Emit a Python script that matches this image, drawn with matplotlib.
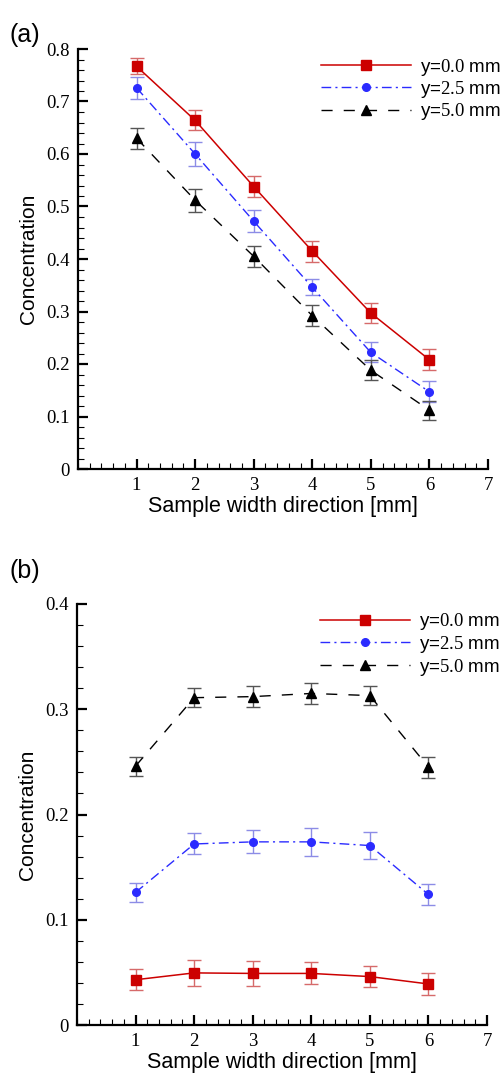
import matplotlib
matplotlib.use("Agg")
import matplotlib.pyplot as plt
from matplotlib.ticker import MultipleLocator, FixedLocator
from matplotlib.lines import Line2D

plt.rcParams['mathtext.fontset'] = 'custom'
plt.rcParams['mathtext.rm'] = 'Liberation Serif'

x = [1, 2, 3, 4, 5, 6]
labels = ["y=$\\mathrm{0.0}$ mm", "y=$\\mathrm{2.5}$ mm", "y=$\\mathrm{5.0}$ mm"]

# Panel (a)
a_y00 = [0.767, 0.664, 0.538, 0.415, 0.297, 0.208]
a_y00_err = [0.015, 0.019, 0.020, 0.020, 0.019, 0.020]
a_y25 = [0.726, 0.600, 0.472, 0.346, 0.222, 0.147]
a_y25_err = [0.021, 0.022, 0.021, 0.015, 0.019, 0.020]
a_y50 = [0.630, 0.512, 0.405, 0.292, 0.188, 0.112]
a_y50_err = [0.020, 0.022, 0.020, 0.020, 0.019, 0.018]

# Panel (b)
b_y00 = [0.043, 0.0495, 0.049, 0.049, 0.046, 0.039]
b_y00_err = [0.010, 0.012, 0.012, 0.0105, 0.010, 0.0105]
b_y25 = [0.126, 0.172, 0.174, 0.174, 0.1705, 0.124]
b_y25_err = [0.009, 0.010, 0.011, 0.013, 0.013, 0.010]
b_y50 = [0.246, 0.311, 0.312, 0.315, 0.313, 0.245]
b_y50_err = [0.009, 0.009, 0.010, 0.010, 0.009, 0.010]

W, H = 502, 1079
fig = plt.figure(figsize=(W / 100, H / 100), dpi=100)

def ax_rect(l, r, t, b):
    return [l / W, 1 - b / H, (r - l) / W, (b - t) / H]

styles = [
    dict(color='#cc0000', ecolor='#d66a6a', marker='s', ms=7, ls='-', lw=1.1),
    dict(color='#2b2bff', ecolor='#8c8ce6', marker='o', ms=5.5, ls=(0, (7, 3, 1.5, 3)), lw=1.0),
    dict(color='#000000', ecolor='#555555', marker='^', ms=7, ls=(0, (8, 8)), lw=1.0),
]

def draw(ax, ys, errs, ymax, ymajor, yfmt):
    handles = []
    for y, e, st, lab in zip(ys, errs, styles, labels):
        ax.errorbar(x, y, yerr=e, color=st['color'], ecolor=st['ecolor'],
                    marker=st['marker'], ms=st['ms'], ls=st['ls'], lw=st['lw'],
                    elinewidth=1.0, capsize=5, capthick=1.0)
        handles.append(Line2D([], [], color=st['color'], marker=st['marker'],
                              ms=st['ms'], ls=st['ls'], lw=st['lw'], label=lab))
    ax.set_xlim(0, 7)
    ax.set_ylim(0, ymax)
    ax.xaxis.set_major_locator(FixedLocator([1, 2, 3, 4, 5, 6, 7]))
    ax.xaxis.set_minor_locator(MultipleLocator(0.2))
    ax.yaxis.set_major_locator(MultipleLocator(ymajor))
    ax.yaxis.set_minor_locator(MultipleLocator(0.02))
    ax.set_yticklabels([yfmt(v) for v in ax.get_yticks()])
    for s in ['top', 'right']:
        ax.spines[s].set_visible(False)
    for s in ['left', 'bottom']:
        ax.spines[s].set_linewidth(1.6)
    ax.tick_params(which='major', direction='in', length=7, width=1.6,
                   labelsize=13.5, pad=6)
    ax.tick_params(which='minor', direction='in', length=4, width=0.8)
    for lbl in ax.get_xticklabels() + ax.get_yticklabels():
        lbl.set_fontfamily('Liberation Serif')
    ax.set_xlabel('Sample width direction [mm]', fontsize=15.5,
                  fontfamily='Liberation Sans', labelpad=1)
    ax.set_ylabel('Concentration', fontsize=15, fontfamily='Liberation Sans',
                  labelpad=6)
    leg = ax.legend(handles=handles, loc='upper right', frameon=False, fontsize=13.5,
                    handlelength=4.8, handletextpad=0.5, labelspacing=0.08,
                    borderaxespad=0.0, bbox_to_anchor=(1.05, 1.0))
    for t in leg.get_texts():
        t.set_fontfamily('Liberation Sans')
    return ax

def fmt_a(v):
    return '0' if abs(v) < 1e-9 else f'{v:.1f}'

ax1 = fig.add_axes(ax_rect(78, 488, 49, 469))
draw(ax1, [a_y00, a_y25, a_y50], [a_y00_err, a_y25_err, a_y50_err], 0.8, 0.1, fmt_a)
ax2 = fig.add_axes(ax_rect(77, 487, 604, 1025))
draw(ax2, [b_y00, b_y25, b_y50], [b_y00_err, b_y25_err, b_y50_err], 0.4, 0.1, fmt_a)

fig.text(10 / W, 1 - 42 / H, '(a)', fontsize=18, fontfamily='Liberation Sans')
fig.text(10 / W, 1 - 578 / H, '(b)', fontsize=18, fontfamily='Liberation Sans')

fig.savefig('out.png', dpi=100)
